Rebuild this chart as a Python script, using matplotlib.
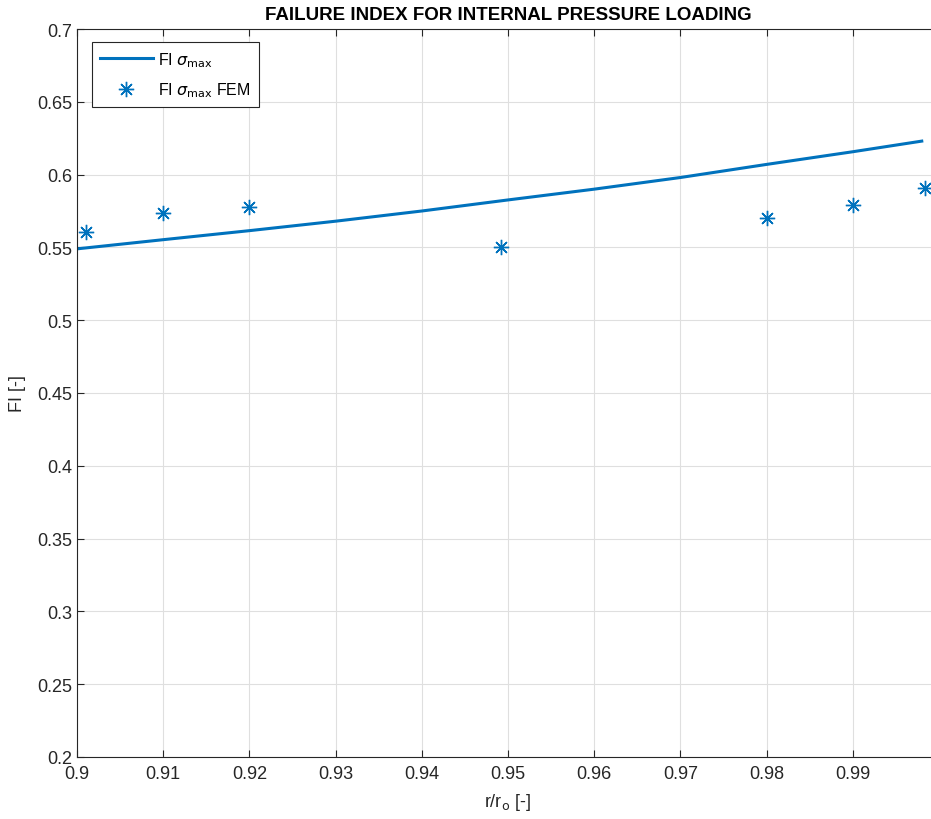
import matplotlib.pyplot as plt

plt.rcParams['font.family'] = ['Liberation Sans', 'DejaVu Sans']
plt.rcParams['mathtext.fontset'] = 'dejavusans'

# analytical failure index along the radius
r_line = [0.900, 0.910, 0.920, 0.930, 0.940, 0.950, 0.960, 0.970, 0.980, 0.990, 0.998]
fi_line = [0.549, 0.5553, 0.5615, 0.568, 0.575, 0.5826, 0.590, 0.598, 0.607, 0.6157, 0.623]

# FEM results
r_fem = [0.9011, 0.910, 0.920, 0.9492, 0.980, 0.990, 0.9984]
fi_fem = [0.5604, 0.5734, 0.5775, 0.550, 0.570, 0.579, 0.5905]

blue = '#0072BD'
axc = '#262626'

fig = plt.figure(figsize=(9.31, 8.2), dpi=100)
ax = fig.add_axes([77 / 931, 1 - 758 / 820, (939 - 77) / 931, (758 - 30) / 820])

ax.plot(r_line, fi_line, color=blue, lw=2.2, label=r'FI $\sigma_{\mathrm{max}}$')
ax.plot(r_fem, fi_fem, ls='none', marker=(8, 2, 0), ms=11, mew=1.0, color=blue,
        label=r'FI $\sigma_{\mathrm{max}}$ FEM')

ax.set_xlim(0.9, 1.0)
ax.set_ylim(0.2, 0.7)
ax.set_xticks([0.9, 0.91, 0.92, 0.93, 0.94, 0.95, 0.96, 0.97, 0.98, 0.99])
ax.set_xticklabels(['0.9', '0.91', '0.92', '0.93', '0.94', '0.95', '0.96', '0.97', '0.98', '0.99'])
ax.set_yticks([0.2, 0.25, 0.3, 0.35, 0.4, 0.45, 0.5, 0.55, 0.6, 0.65, 0.7])
ax.set_yticklabels(['0.2', '0.25', '0.3', '0.35', '0.4', '0.45', '0.5', '0.55', '0.6', '0.65', '0.7'])

ax.grid(True, color='#dfdfdf', lw=0.8)
ax.set_axisbelow(True)
for s in ax.spines.values():
    s.set_color(axc)
    s.set_linewidth(0.8)
ax.spines['right'].set_visible(False)
ax.tick_params(direction='in', length=5, colors=axc, labelsize=13, top=True, right=False,
               labelcolor=axc)
ax.tick_params(axis='x', pad=6)

ax.set_title('FAILURE INDEX FOR INTERNAL PRESSURE LOADING', fontsize=13.5, fontweight='bold', pad=7)
ax.set_xlabel(r'r/r$_\mathrm{o}$ [-]', fontsize=13, color=axc, labelpad=6)
ax.set_ylabel('FI [-]', fontsize=13, color=axc, labelpad=8)

leg = ax.legend(loc='upper left', bbox_to_anchor=(15 / 862, 1 - 13 / 728), fontsize=11.5,
                fancybox=False, edgecolor=axc, framealpha=1, handlelength=3.3,
                handletextpad=0.35, labelspacing=0.75, borderpad=0.5, borderaxespad=0)
leg.get_frame().set_linewidth(0.8)

fig.savefig('out.png', dpi=100)
